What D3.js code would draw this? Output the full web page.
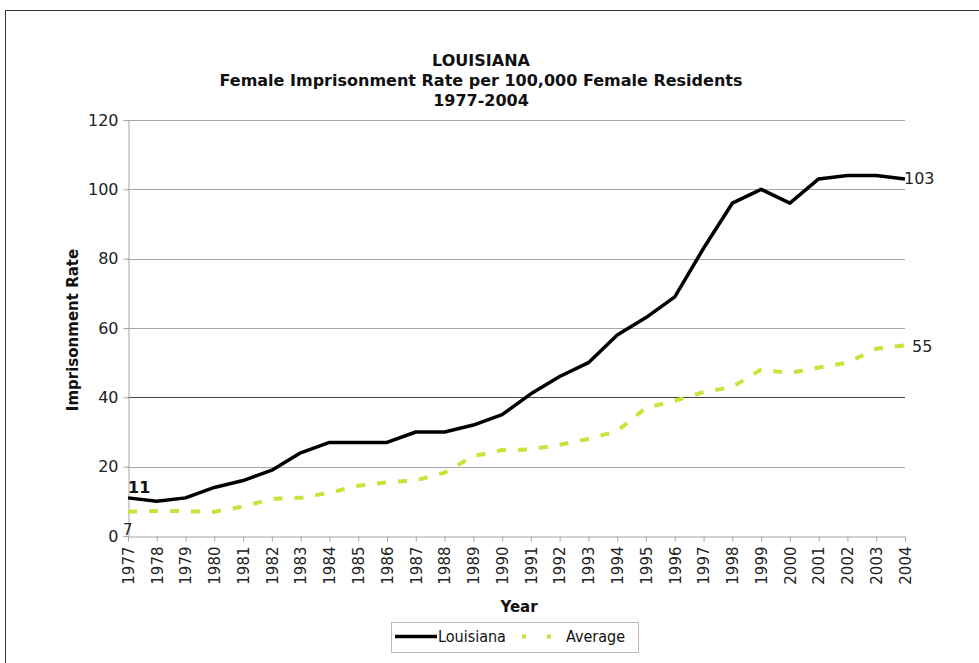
<!DOCTYPE html>
<html>
<head>
<meta charset="utf-8">
<script src="https://cdn.jsdelivr.net/npm/d3@7"></script>
<style>
  body { margin: 0; background: #fff; }
  svg { display: block; }
</style>
</head>
<body>
<svg id="chart" width="979" height="663"></svg>
<script>
// years on the x axis
const years = [1977,1978,1979,1980,1981,1982,1983,1984,1985,1986,1987,1988,1989,1990,
               1991,1992,1993,1994,1995,1996,1997,1998,1999,2000,2001,2002,2003,2004];
// Louisiana female imprisonment rate
const louisiana = [11,10,11,14,16,19,24,27,27,27,30,30,32,35,
                   41,46,50,58,63,69,83,96,100,96,103,104,104,103];
// national average
const average = [7,7.2,7.2,7,8.5,10.7,11,12.5,14.5,15.5,16,18.3,23,24.8,
                 25,26.3,28,30.3,37,39,41.5,43,48,47,48.6,50,54,55];
const yTicks = [0,20,40,60,80,100,120];
const titleLines = ["LOUISIANA", "Female Imprisonment Rate per 100,000 Female Residents", "1977-2004"];

const svg = d3.select("#chart");
const font = "'DejaVu Sans', Verdana, sans-serif";
const condensed = "'DejaVu Sans Condensed', 'DejaVu Sans', sans-serif";

// outer frame
svg.append("rect").attr("x", 5.5).attr("y", 10.5).attr("width", 990).attr("height", 700)
  .attr("fill", "none").attr("stroke", "#333").attr("stroke-width", 1);

const x = d3.scaleLinear().domain([1977, 2004]).range([128, 905]);
const y = d3.scaleLinear().domain([0, 120]).range([536, 120]);

// gridlines
svg.append("g").selectAll("line").data(yTicks.filter(d => d > 0)).join("line")
  .attr("x1", 128).attr("x2", 905)
  .attr("y1", d => Math.round(y(d)) + 0.5).attr("y2", d => Math.round(y(d)) + 0.5)
  .attr("stroke", d => d === 40 ? "#444" : "#a6a6a6").attr("stroke-width", 1);

// y axis
const yAxis = svg.append("g").attr("transform", "translate(128.5,0)")
  .call(d3.axisLeft(y).tickValues(yTicks).tickSize(5).tickPadding(5));
yAxis.select(".domain").attr("stroke", "#a6a6a6");
yAxis.selectAll(".tick line").attr("stroke", "#a6a6a6");
yAxis.selectAll(".tick text").attr("font-family", font).attr("font-size", 16).attr("fill", "#222");

// x axis
const xAxis = svg.append("g").attr("transform", "translate(0,536.5)")
  .call(d3.axisBottom(x).tickValues(years).tickFormat(d3.format("d")).tickSize(5).tickSizeOuter(0));
xAxis.select(".domain").attr("stroke", "#a6a6a6");
xAxis.selectAll(".tick line").attr("stroke", "#a6a6a6");
xAxis.selectAll(".tick text")
  .attr("font-family", font).attr("font-size", 15).attr("fill", "#222")
  .attr("transform", "rotate(-90)")
  .attr("x", -10).attr("y", 0).attr("dy", "0.35em")
  .attr("text-anchor", "end");

// lines
const line = d3.line().x((d, i) => x(years[i])).y(d => y(d));
svg.append("path").datum(average).attr("d", line)
  .attr("fill", "none").attr("stroke", "#c6e43a").attr("stroke-width", 4)
  .attr("stroke-dasharray", "9,12");
svg.append("path").datum(louisiana).attr("d", line)
  .attr("fill", "none").attr("stroke", "#000").attr("stroke-width", 3.5)
  .attr("stroke-linejoin", "round");

// data labels
const last = years.length - 1;
svg.append("text").attr("x", x(years[0])).attr("y", y(louisiana[0]) - 5)
  .attr("font-family", font).attr("font-size", 16).attr("font-weight", "bold").attr("fill", "#111")
  .text(louisiana[0]);
svg.append("text").attr("x", x(years[0]) - 5).attr("y", y(average[0]) + 23)
  .attr("font-family", font).attr("font-size", 15).attr("fill", "#222")
  .text(average[0]);
svg.append("text").attr("x", x(years[last]) - 1).attr("y", y(louisiana[last]) + 5)
  .attr("font-family", font).attr("font-size", 16).attr("fill", "#222")
  .text(louisiana[last]);
svg.append("text").attr("x", x(years[last]) + 7).attr("y", y(average[last]) + 7)
  .attr("font-family", font).attr("font-size", 16).attr("fill", "#222")
  .text(average[last]);

// title
svg.append("g").selectAll("text").data(titleLines).join("text")
  .attr("x", 481).attr("y", (d, i) => 66 + i * 20)
  .attr("text-anchor", "middle")
  .attr("font-family", font).attr("font-size", 16).attr("font-weight", "bold").attr("fill", "#111")
  .text(d => d);

// axis titles
svg.append("text").attr("transform", "translate(78,330) rotate(-90)")
  .attr("text-anchor", "middle").attr("font-family", font).attr("font-size", 15)
  .attr("font-weight", "bold").attr("fill", "#111").text("Imprisonment Rate");
svg.append("text").attr("x", 519).attr("y", 612)
  .attr("text-anchor", "middle").attr("font-family", font).attr("font-size", 15)
  .attr("font-weight", "bold").attr("fill", "#111").text("Year");

// legend
const lg = svg.append("g").attr("transform", "translate(391,622)");
lg.append("rect").attr("x", 0.5).attr("y", 0.5).attr("width", 247).attr("height", 30)
  .attr("fill", "#fff").attr("stroke", "#bbb");
lg.append("line").attr("x1", 4).attr("x2", 46).attr("y1", 14.5).attr("y2", 14.5)
  .attr("stroke", "#000").attr("stroke-width", 3.5);
lg.append("text").attr("x", 47).attr("y", 20).attr("font-family", condensed)
  .attr("font-size", 16).attr("fill", "#111").text("Louisiana");
lg.append("line").attr("x1", 131).attr("x2", 164).attr("y1", 14.5).attr("y2", 14.5)
  .attr("stroke", "#c6e43a").attr("stroke-width", 4).attr("stroke-dasharray", "4,21");
lg.append("text").attr("x", 175).attr("y", 20).attr("font-family", condensed)
  .attr("font-size", 16).attr("fill", "#111").text("Average");
</script>
</body>
</html>
